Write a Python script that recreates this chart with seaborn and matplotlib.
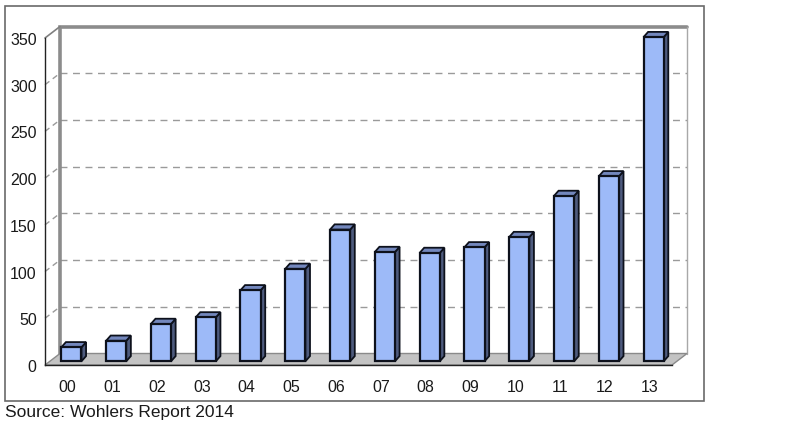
import numpy as np
import pandas as pd
import matplotlib
matplotlib.use("Agg")
import matplotlib.pyplot as plt
from matplotlib.patches import Polygon, Rectangle
from matplotlib.transforms import ScaledTranslation
import seaborn as sns

# ---- data ----
years = ["00", "01", "02", "03", "04", "05", "06", "07", "08", "09", "10", "11", "12", "13"]
values = [15, 22, 40, 47, 76, 99, 141, 117, 116, 122, 133, 177, 198, 347]
y_ticks = [0, 50, 100, 150, 200, 250, 300, 350]
source_text = "Source: Wohlers Report 2014"

sns.set_style("white")
plt.rcParams["font.family"] = ["Liberation Sans", "DejaVu Sans"]

W, H = 796, 431
fig = plt.figure(figsize=(W / 100, H / 100), dpi=100)
fig.patch.set_facecolor("white")

# front plane of the 3D box
x0, x1 = 45, 672
ytop, ybot = 39, 366
ax = fig.add_axes([x0 / W, (H - ybot) / H, (x1 - x0) / W, (ybot - ytop) / H])
ax.set_facecolor("none")

df = pd.DataFrame({"year": years, "value": values})
front_col = "#9dbaf8"
side_col = "#4e5b7e"
top_col = "#7387bd"
edge_col = "#0d111c"

sns.barplot(data=df, x="year", y="value", order=years, color=front_col,
            saturation=1, width=0.45, edgecolor=edge_col, linewidth=1.6,
            ax=ax, zorder=5)

n = len(years)
ax.set_xlim(-0.5, n - 0.5)
ax.set_ylim(0, 350)

# depth offsets (data units)
px_x = (x1 - x0) / n          # pixels per category
px_y = (ybot - ytop) / 350.0  # pixels per unit
bdx, bdy = 15 / px_x, 11.5 / px_y    # back wall depth
ddx, ddy = 4.6 / px_x, 5.2 / px_y    # bar depth

grid_col = "#9a9a9a"
wall_col = "#8c8c8c"

# floor
floor = Polygon([(-0.5, 0), (n - 0.5, 0), (n - 0.5 + bdx, bdy), (-0.5 + bdx, bdy)],
                closed=True, facecolor="#c3c3c3", edgecolor="#8a8a8a", lw=1,
                zorder=1, clip_on=False)
ax.add_patch(floor)

# gridlines on back wall and side wall
for v in y_ticks[1:-1]:
    ax.plot([-0.5 + bdx, n - 0.5 + bdx], [v + bdy, v + bdy], color=grid_col,
            lw=1, ls=(0, (5, 4)), zorder=0.5, clip_on=False)
    ax.plot([-0.5, -0.5 + bdx], [v, v + bdy], color=grid_col,
            lw=1, ls=(0, (4, 3)), zorder=0.5, clip_on=False)

# back wall outline
top_v = y_ticks[-1]
ax.plot([-0.5 + bdx, -0.5 + bdx, n - 0.5 + bdx], [bdy, top_v + bdy, top_v + bdy],
        color=wall_col, lw=2.6, zorder=0.6, clip_on=False, solid_joinstyle="miter")
ax.plot([n - 0.5 + bdx, n - 0.5 + bdx], [bdy, top_v + bdy], color="#a8a8a8",
        lw=1, zorder=0.6, clip_on=False)
ax.plot([-0.5, -0.5 + bdx], [top_v, top_v + bdy], color="#808080", lw=1.2,
        zorder=0.6, clip_on=False)

# 3D bars: offset front face, add side and top faces
offset = ScaledTranslation(4 / 100, 3.7 / 100, fig.dpi_scale_trans)
tr = ax.transData + offset
for p in list(ax.patches):
    if p is floor:
        continue
    bx, bw, bh = p.get_x(), p.get_width(), p.get_height()
    p.set_transform(tr)
    p.set_zorder(5)
    side = Polygon([(bx + bw, 0), (bx + bw + ddx, ddy), (bx + bw + ddx, bh + ddy), (bx + bw, bh)],
                   closed=True, facecolor=side_col, edgecolor=edge_col, lw=1.3,
                   transform=tr, zorder=4, clip_on=False, joinstyle="miter")
    top = Polygon([(bx, bh), (bx + bw, bh), (bx + bw + ddx, bh + ddy), (bx + ddx, bh + ddy)],
                  closed=True, facecolor=top_col, edgecolor=edge_col, lw=1.3,
                  transform=tr, zorder=4, clip_on=False, joinstyle="miter")
    ax.add_patch(side)
    ax.add_patch(top)
    p.set_clip_on(False)

# axes styling
for s in ["top", "right"]:
    ax.spines[s].set_visible(False)
for s in ["left", "bottom"]:
    ax.spines[s].set_color("#222222")
    ax.spines[s].set_linewidth(1.0)
    ax.spines[s].set_zorder(2)

ax.set_yticks(y_ticks)
ax.set_yticklabels([str(t) for t in y_ticks])
ax.tick_params(axis="y", length=4.5, width=1, color="#222222", pad=1.5,
               labelsize=11.5, labelcolor="#1a1a1a")
ax.set_xticks(range(n))
ax.set_xticklabels(years)
ax.set_xticks(np.arange(-0.5, n, 1), minor=True)
ax.tick_params(axis="x", which="major", length=0, pad=10, labelsize=11.5,
               labelcolor="#1a1a1a")
ax.tick_params(axis="x", which="minor", length=5, width=1, color="#222222")
ax.set_xlabel("")
ax.set_ylabel("")
ax.grid(False)

# outer frame
fig.patches.append(Rectangle((5 / W, 1 - 402 / H), 699 / W, 395 / H,
                             transform=fig.transFigure, fill=False,
                             edgecolor="#6a6a6a", lw=1.2, zorder=0))

fig.text(5 / W, 1 - 413 / H, source_text, ha="left", va="center",
         fontsize=12.5, color="#1a1a1a")

fig.savefig("out.png", dpi=100, facecolor="white")
